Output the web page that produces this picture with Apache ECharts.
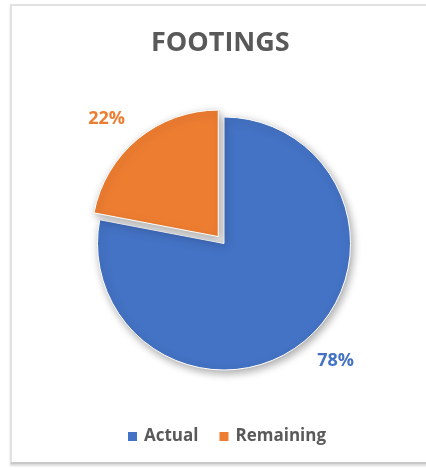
<!DOCTYPE html>
<html>
<head>
<meta charset="utf-8">
<script src="https://cdn.jsdelivr.net/npm/echarts@6/dist/echarts.min.js"></script>
<style>
  html, body { margin: 0; padding: 0; background: #ffffff; }
  #chart { position: absolute; left: 0; top: 0; width: 426px; height: 470px; }
  #frame {
    position: absolute; left: 10px; top: 4px; width: 430px; height: 460px;
    border-left: 2px solid #e2e2e2; border-top: 2px solid #e2e2e2;
    border-bottom: 2px solid #c8c8c8;
    box-shadow: 0 2px 2px rgba(0,0,0,0.15);
    pointer-events: none; box-sizing: border-box;
  }
</style>
</head>
<body>
<div id="chart"></div>
<div id="frame"></div>
<script>
const titleText = 'FOOTINGS';
const categories = ['Actual', 'Remaining'];
const values = [78, 22];
const colors = ['#4472C4', '#ED7D31'];
const explodedIndex = 1;

const chart = echarts.init(document.getElementById('chart'), null, { renderer: 'canvas' });

const data = categories.map((name, i) => ({
  name: name,
  value: values[i],
  selected: i === explodedIndex,
  itemStyle: { color: colors[i] },
  label: { color: colors[i] }
}));

chart.setOption({
  animation: false,
  title: {
    text: titleText,
    left: 151,
    top: 30,
    padding: 0,
    textStyle: { fontFamily: 'Open Sans', fontWeight: 'bold', fontSize: 27, color: '#595959' }
  },
  legend: {
    data: categories,
    left: 126,
    top: 428,
    padding: 0,
    icon: 'rect',
    itemWidth: 11,
    itemHeight: 11,
    itemGap: 19,
    selectedMode: false,
    textStyle: { fontFamily: 'Open Sans', fontWeight: 'bold', fontSize: 17, color: '#595959', padding: [0, 0, 0, 1] }
  },
  series: [{
    type: 'pie',
    center: [224, 243.5],
    radius: 126.5,
    startAngle: 90,
    clockwise: true,
    selectedMode: 'single',
    selectedOffset: 9,
    avoidLabelOverlap: false,
    emphasis: { disabled: true },
    itemStyle: {
      borderColor: '#ffffff', borderWidth: 1,
      shadowBlur: 8, shadowColor: 'rgba(0,0,0,0.35)', shadowOffsetX: 2, shadowOffsetY: 3
    },
    label: {
      show: true,
      position: 'outside',
      formatter: '{d}%',
      fontFamily: 'Open Sans',
      fontWeight: 'bold',
      fontSize: 18,
      distanceToLabelLine: 0,
      textShadowBlur: 0
    },
    labelLine: { show: false, length: 26, length2: -4 },
    data: data
  }]
});
</script>
</body>
</html>
